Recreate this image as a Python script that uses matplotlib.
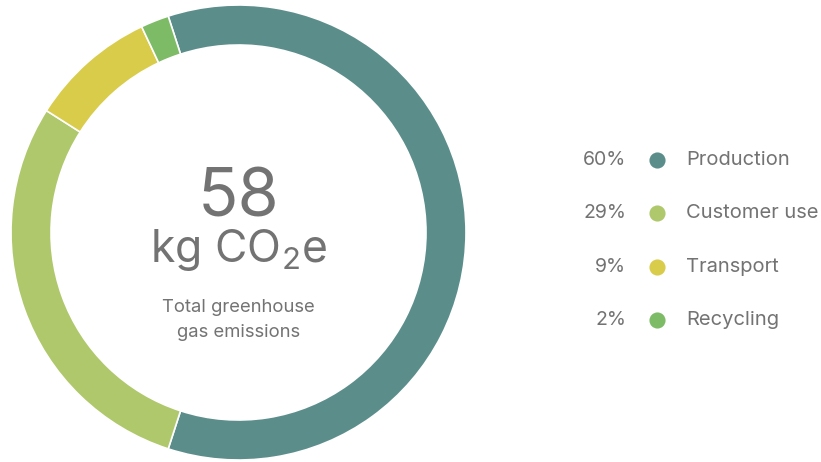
import matplotlib
matplotlib.use("Agg")
from matplotlib import pyplot as plt

plt.rcParams['font.family'] = ['Inter', 'DejaVu Sans']
plt.rcParams['mathtext.fontset'] = 'custom'
plt.rcParams['mathtext.rm'] = 'Inter'

categories = ["Production", "Customer use", "Transport", "Recycling"]
shares = [60, 29, 9, 2]
colors = ["#5b8e8b", "#afc86b", "#d9cc4b", "#7dbb66"]
total_value = "58"
unit_label = r"kg CO$\mathregular{_2}$e"
caption = "Total greenhouse\ngas emissions"

text_color = "#737373"

fig = plt.figure(figsize=(8.21, 4.62), dpi=100)
ax = fig.add_axes([0, 0, 1, 1])

# donut, drawn in pixel-like coordinates (y up)
cx, cy, r = 238.5, 229.5, 227.5
ax.pie(shares, colors=colors, startangle=108, counterclock=False,
       center=(cx, cy), radius=r,
       wedgeprops=dict(width=40, edgecolor="white", linewidth=1.2))

ax.text(cx, 263, total_value, ha="center", va="center", fontsize=48, color=text_color)
ax.text(cx, 212, unit_label, ha="center", va="center", fontsize=32, color=text_color)
ax.text(cx, 142, caption, ha="center", va="center", fontsize=13.3,
        color=text_color, linespacing=1.55)

# legend on the right
rows_y = [302, 249, 195, 142]
for y, name, pct, col in zip(rows_y, categories, shares, colors):
    ax.text(626, y, f"{pct}%", ha="right", va="center", fontsize=14, color=text_color)
    ax.scatter([657], [y], s=135, color=col, linewidths=0)
    ax.text(686, y, name, ha="left", va="center", fontsize=14.5, color=text_color)

ax.set_xlim(0, 821)
ax.set_ylim(0, 462)
ax.set_aspect("auto")
ax.axis("off")

fig.savefig("out.png", dpi=100)
